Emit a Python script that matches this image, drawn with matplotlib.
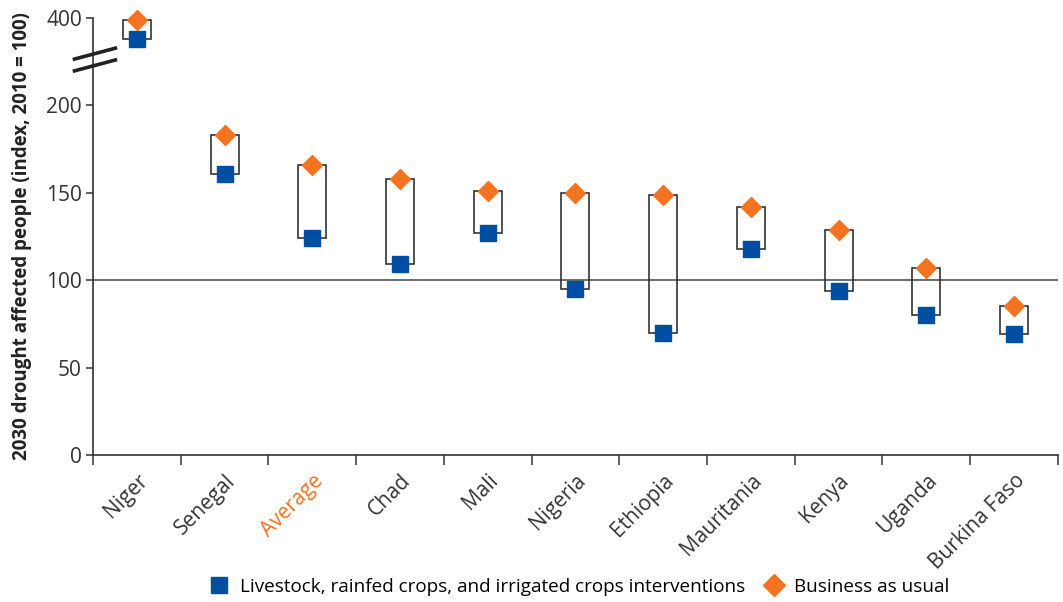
import numpy as np
import matplotlib
matplotlib.use("Agg")
import matplotlib.pyplot as plt
from matplotlib.lines import Line2D

# data
countries = ["Niger", "Senegal", "Average", "Chad", "Mali", "Nigeria",
             "Ethiopia", "Mauritania", "Kenya", "Uganda", "Burkina Faso"]
business_as_usual = [399, 183, 166, 158, 151, 150, 149, 142, 129, 107, 85]
interventions = [388, 161, 124, 109, 127, 95, 70, 118, 94, 80, 69]
y_ticks = [0, 50, 100, 150, 200, 400]

blue = "#004EA2"
orange = "#F37321"
dark = "#333333"

plt.rcParams["font.family"] = ["Open Sans", "DejaVu Sans"]


# broken axis: 0-200 linear, squeezed gap, then 1:1 again above 360
def fwd(v):
    v = np.asarray(v, dtype=float)
    return np.where(v <= 200, v, np.where(v <= 360, 200 + (v - 200) / 16, v - 150))


def inv(p):
    p = np.asarray(p, dtype=float)
    return np.where(p <= 200, p, np.where(p <= 210, 200 + (p - 200) * 16, p + 150))


fig = plt.figure(figsize=(10.63, 6.02), dpi=100)
ax = fig.add_axes([0.0875, 0.2442, 0.9077, 0.7259])
ax.set_yscale("function", functions=(fwd, inv))

x = np.arange(len(countries))
bau = np.array(business_as_usual)
itv = np.array(interventions)

ax.axhline(100, color="#444444", lw=1.1, zorder=1)
ax.bar(x, bau - itv, bottom=itv, width=0.32, fill=False,
       edgecolor=dark, linewidth=1.2, zorder=2)
ax.plot(x, itv, ls="none", marker="s", ms=11.5, color=blue, zorder=3,
        clip_on=False)
ax.plot(x, bau, ls="none", marker="D", ms=10.5, color=orange, zorder=4,
        clip_on=False)

ax.set_xlim(-0.5, len(countries) - 0.5)
ax.set_ylim(0, 400)
ax.set_yticks(y_ticks)
ax.set_yticklabels([str(t) for t in y_ticks])

ax.set_xticks(np.arange(-0.5, len(countries)), minor=False)
ax.set_xticklabels([])
ax.set_xticks(x, minor=True)
ax.set_xticklabels(countries, minor=True, rotation=45, ha="right",
                   va="top", rotation_mode="anchor")
ax.tick_params(axis="x", which="minor", length=0, pad=11, labelsize=15,
               labelcolor=dark)
ax.tick_params(axis="x", which="major", length=7, width=1.1, color=dark)
ax.tick_params(axis="y", length=5, width=1.1, color=dark, labelsize=15,
               labelcolor=dark, pad=3)
for lab in ax.get_xticklabels(minor=True):
    if lab.get_text() == "Average":
        lab.set_color(orange)

for s in ["top", "right"]:
    ax.spines[s].set_visible(False)
for s in ["left", "bottom"]:
    ax.spines[s].set_color(dark)
    ax.spines[s].set_linewidth(1.2)

ax.set_ylabel("2030 drought affected people (index, 2010 = 100)",
              fontsize=13.5, fontweight="bold", color="#222222", labelpad=10,
              family=["Liberation Sans Narrow", "Open Sans"])

# break marks on the y axis
for y0, y1 in [(0.905, 0.932), (0.878, 0.905)]:
    ax.plot([-0.021, 0.025], [y0, y1], transform=ax.transAxes, color="#222222",
            lw=2.6, clip_on=False, zorder=5, solid_capstyle="butt")

handles = [
    Line2D([], [], ls="none", marker="s", ms=12, color=blue),
    Line2D([], [], ls="none", marker="D", ms=11, color=orange),
]
fig.legend(handles,
           ["Livestock, rainfed crops, and irrigated crops interventions",
            "Business as usual"],
           loc="lower center", bbox_to_anchor=(0.541, -0.018), ncol=2,
           frameon=False, handletextpad=0.1, columnspacing=0.5,
           prop={"family": ["Liberation Sans Narrow", "Open Sans"], "size": 13.6})

fig.savefig("out.png", dpi=100)
